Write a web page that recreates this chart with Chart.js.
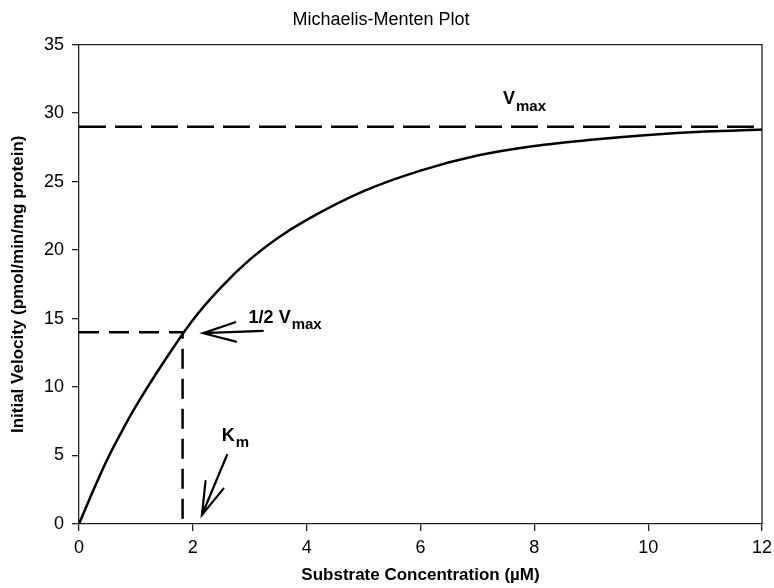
<!DOCTYPE html>
<html>
<head>
<meta charset="utf-8">
<script src="https://cdn.jsdelivr.net/npm/chart.js@4.4.1/dist/chart.umd.min.js"></script>
<style>
  html, body { margin: 0; padding: 0; background: #fff; }
  #wrap { width: 774px; height: 588px; }
</style>
</head>
<body>
<div id="wrap"><canvas id="mmChart"></canvas></div>
<script>
// ── Data ──
const substrateConc   = [0, 0.25, 0.5, 0.75, 1, 1.5, 2, 2.5, 3, 3.5, 4, 5, 6, 7, 8, 9, 10, 11, 12];
const initialVelocity = [0, 2.45, 4.75, 6.75, 8.6, 11.9, 14.9, 17.3, 19.3, 20.9, 22.2, 24.3, 25.8, 26.9, 27.6, 28.05, 28.4, 28.65, 28.8];

const vmaxX = [0, 12];
const vmaxY = [29, 29];
const halfX = [0, 1.82, 1.82];
const halfY = [14, 14, 0];

const xTicks = [0, 2, 4, 6, 8, 10, 12];
const yTicks = [0, 5, 10, 15, 20, 25, 30, 35];

// ── Labels / arrows (anchored in data units) ──
const noteText = ['V', '1/2 V', 'K'];
const noteSub  = ['max', 'max', 'm'];
const noteAt   = [[7.45, 31], [2.98, 15.05], [2.51, 6.4]];
const arrowFrom = [[3.23, 14.1], [2.6, 5.04]];
const arrowTo   = [[2.18, 13.93], [2.16, 0.66]];

const FONT = "'Liberation Sans', Arial, sans-serif";
Chart.defaults.font.family = FONT;
Chart.defaults.color = '#000';

const toPts = (xs, ys) => xs.map((x, i) => ({ x: x, y: ys[i] }));

// frame on top / right of plot area
const framePlugin = {
    id: 'frame',
    afterDraw(chart) {
        const { ctx, chartArea: a } = chart;
        ctx.save();
        ctx.strokeStyle = '#222';
        ctx.lineWidth = 1.3;
        ctx.beginPath();
        ctx.moveTo(a.left, a.top);
        ctx.lineTo(a.right, a.top);
        ctx.lineTo(a.right, a.bottom);
        ctx.stroke();
        ctx.restore();
    }
};

// text labels with subscripts + arrows
const notesPlugin = {
    id: 'notes',
    afterDraw(chart) {
        const { ctx, scales: { x, y } } = chart;
        ctx.save();
        ctx.fillStyle = '#000';
        ctx.textBaseline = 'middle';
        noteText.forEach((t, i) => {
            const px = x.getPixelForValue(noteAt[i][0]);
            const py = y.getPixelForValue(noteAt[i][1]);
            ctx.font = 'bold 18px ' + FONT;
            ctx.fillText(t, px, py);
            const w = ctx.measureText(t).width;
            ctx.font = 'bold 15px ' + FONT;
            ctx.fillText(noteSub[i], px + w + 1, py + 7);
        });

        ctx.strokeStyle = '#000';
        ctx.lineWidth = 2.2;
        ctx.lineCap = 'round';
        arrowFrom.forEach((f, i) => {
            const x0 = x.getPixelForValue(f[0]), y0 = y.getPixelForValue(f[1]);
            const x1 = x.getPixelForValue(arrowTo[i][0]), y1 = y.getPixelForValue(arrowTo[i][1]);
            const ang = Math.atan2(y0 - y1, x0 - x1);
            const head = 34, spread = 0.29;
            ctx.beginPath();
            ctx.moveTo(x0, y0);
            ctx.lineTo(x1, y1);
            ctx.moveTo(x1 + head * Math.cos(ang + spread), y1 + head * Math.sin(ang + spread));
            ctx.lineTo(x1, y1);
            ctx.lineTo(x1 + head * Math.cos(ang - spread), y1 + head * Math.sin(ang - spread));
            ctx.stroke();
        });
        ctx.restore();
    }
};

new Chart(document.getElementById('mmChart'), {
    type: 'scatter',
    data: {
        datasets: [
            {
                data: toPts(substrateConc, initialVelocity),
                showLine: true,
                borderColor: '#000',
                borderWidth: 2.5,
                pointRadius: 0,
                cubicInterpolationMode: 'monotone'
            },
            {
                data: toPts(vmaxX, vmaxY),
                showLine: true,
                borderColor: '#000',
                borderWidth: 2.5,
                borderDash: [27, 9],
                pointRadius: 0
            },
            {
                data: toPts(halfX, halfY),
                showLine: true,
                borderColor: '#000',
                borderWidth: 2.5,
                borderDash: [20, 10],
                pointRadius: 0
            }
        ]
    },
    options: {
        responsive: true,
        maintainAspectRatio: false,
        animation: false,
        layout: { padding: { right: 12, left: 0, bottom: 0, top: 0 } },
        plugins: {
            legend: { display: false },
            tooltip: { enabled: false },
            title: {
                display: true,
                text: 'Michaelis-Menten Plot',
                font: { size: 18, weight: 'normal' },
                color: '#000',
                padding: { top: 9, bottom: 14 }
            }
        },
        scales: {
            x: {
                type: 'linear',
                min: 0, max: 12,
                afterBuildTicks: s => { s.ticks = xTicks.map(v => ({ value: v })); },
                afterFit: s => { s.height = 64; s.paddingLeft = 0; s.paddingRight = 0; },
                grid: { drawOnChartArea: false, tickLength: 7, color: '#222', lineWidth: 1.3 },
                border: { color: '#222', width: 1.3 },
                ticks: { font: { size: 18 }, color: '#000', padding: 6, maxRotation: 0 },
                title: {
                    display: true,
                    text: 'Substrate Concentration (\u00B5M)',
                    font: { size: 17, weight: 'bold' },
                    color: '#000',
                    padding: { top: 0, bottom: 2 }
                }
            },
            y: {
                type: 'linear',
                min: 0, max: 35,
                afterBuildTicks: s => { s.ticks = yTicks.map(v => ({ value: v })); },
                afterFit: s => { s.width = 79; s.paddingTop = 0; s.paddingBottom = 0; },
                grid: { drawOnChartArea: false, tickLength: 7, color: '#222', lineWidth: 1.3 },
                border: { color: '#222', width: 1.3 },
                ticks: { font: { size: 18 }, color: '#000', padding: 8 },
                title: {
                    display: true,
                    text: 'Initial Velocity (pmol/min/mg protein)',
                    font: { size: 17, weight: 'bold' },
                    color: '#000',
                    padding: { top: 8, bottom: 0 }
                }
            }
        }
    },
    plugins: [framePlugin, notesPlugin]
});
</script>
</body>
</html>
